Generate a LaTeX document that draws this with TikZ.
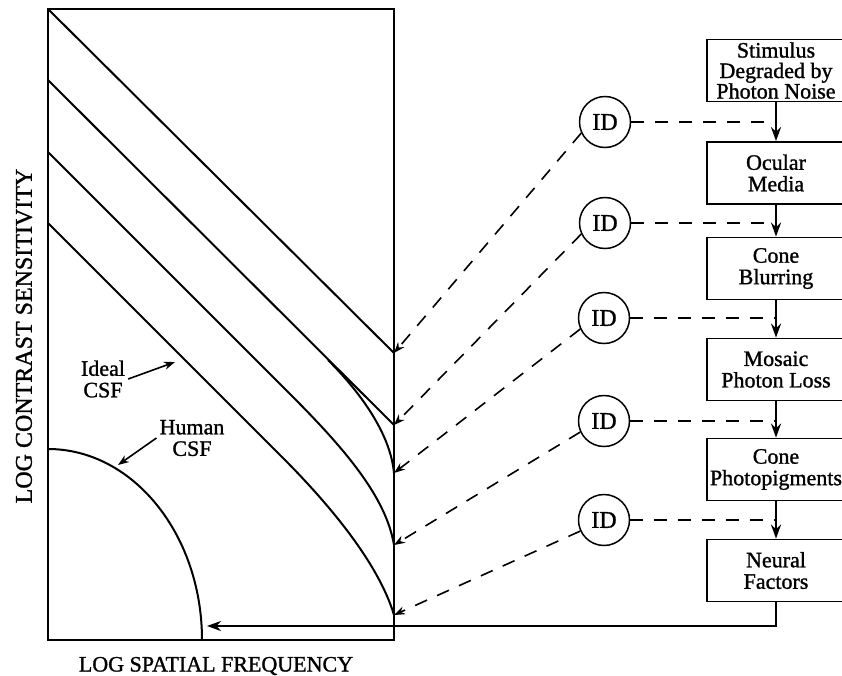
\documentclass[tikz,border=0pt]{standalone}
\usepackage{fontspec}
\setmainfont{Liberation Serif}[BoldFont=Liberation Serif, BoldFeatures={FakeBold=1.2}]
\usetikzlibrary{positioning, arrows.meta}

\begin{document}
\begin{tikzpicture}[x=1pt, y=-1pt, >={Stealth[length=14pt, width=10pt]},
          stage/.style={draw, line width=1.8pt, align=center, minimum width=138pt,
            minimum height=62pt, inner sep=1pt, font=\fontsize{22}{21.5}\selectfont\bfseries},
          ideal/.style={draw, circle, line width=1.5pt, minimum size=51pt, inner sep=0pt,
            font=\fontsize{24}{24}\selectfont\bfseries},
          lab/.style={align=center, inner sep=3pt, font=\fontsize{22}{21.5}\selectfont\bfseries},
          csf/.style={line width=2pt},
          idline/.style={line width=1.6pt, dash pattern=on 13pt off 11pt},
          flow/.style={->, line width=2.5pt}]
        \useasboundingbox (0,0) rectangle (842,675);
        \draw[csf] (48,9) rectangle (394,640);
        \coordinate (p1) at (394,353);
        \coordinate (p2) at (394,425);
        \coordinate (p3) at (394,473);
        \coordinate (p4) at (394,545);
        \coordinate (p5) at (394,615);
        \coordinate (hend) at (207,626);
        \draw[csf] (48,9) -- (p1);
        \draw[csf] (48,80) -- (p2);
        \draw[csf] (328,360) .. controls (355,387) and (390,430) .. (p3);
        \draw[csf] (48,152) -- (290,394) .. controls (345,449) and (386,497) .. (p4);
        \draw[csf] (48,223) -- (282,457) .. controls (337,512) and (380,568) .. (p5);
        \draw[csf] (48,449) .. controls (133,449) and (202,534.5) .. (202,640);
        \node[lab] (idlab) at (103,379) {Ideal\\CSF};
        \node[lab] (hulab) at (192,438) {Human\\CSF};
        \coordinate (idtip) at (175,362);
        \coordinate (hutip) at (118,465);
        \draw[->, line width=1.6pt, >={Stealth[length=11pt, width=8pt]}] (idlab.east) -- (idtip);
        \draw[->, line width=1.6pt, >={Stealth[length=11pt, width=8pt]}] (hulab.west) -- (hutip);
        \node[font=\fontsize{22}{22}\selectfont\bfseries] (xlab) at (216,666) {LOG SPATIAL FREQUENCY};
        \node[font=\fontsize{24}{24}\selectfont\bfseries, rotate=90] (ylab) at (24,336) {LOG CONTRAST SENSITIVITY};
        \node[stage, font=\fontsize{22}{20.5}\selectfont\bfseries] (b1) at (776,70.5) {Stimulus\\Degraded by\\Photon Noise};
        \node[stage] (b2) at (776,173) {Ocular\\Media};
        \node[stage] (b3) at (776,268.5) {Cone\\Blurring};
        \node[stage] (b4) at (776,369.5) {Mosaic\\Photon Loss};
        \node[stage] (b5) at (776,469.5) {Cone\\Photopigments};
        \node[stage] (b6) at (776,570.5) {Neural\\Factors};
        \node[ideal] (id1) at (605,122) {ID};
        \node[ideal] (id2) at (605,223) {ID};
        \node[ideal] (id3) at (604,318) {ID};
        \node[ideal] (id4) at (604,421) {ID};
        \node[ideal] (id5) at (604,520) {ID};
        \foreach \a/\b in {b1/b2, b2/b3, b3/b4, b4/b5, b5/b6}
          \draw[flow] (\a) -- (\b);
        \foreach \i in {1,...,5} {
          \draw[idline] (id\i) -- (id\i -| b\i);
          \draw[idline, ->, >={Stealth[length=11pt, width=8pt]}] (id\i.205) -- (p\i);
        }
        \draw[flow] (b6.south) |- (hend);
      \end{tikzpicture}
\end{document}
